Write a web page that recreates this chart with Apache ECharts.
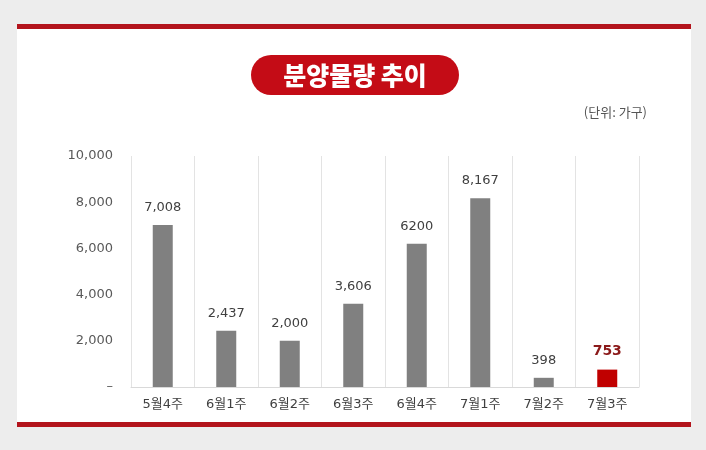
<!DOCTYPE html>
<html>
<head>
<meta charset="utf-8">
<script src="https://cdn.jsdelivr.net/npm/echarts@6/dist/echarts.min.js"></script>
<style>
  html, body { margin: 0; padding: 0; background: #ededed; }
  #main { width: 706px; height: 450px; }
</style>
</head>
<body>
<div id="main"></div>
<script>
var categories = ['5월4주', '6월1주', '6월2주', '6월3주', '6월4주', '7월1주', '7월2주', '7월3주'];
var values = [7008, 2437, 2000, 3606, 6200, 8167, 398, 753];
var valueLabels = ['7,008', '2,437', '2,000', '3,606', '6200', '8,167', '398', '753'];
var yTicks = [0, 2000, 4000, 6000, 8000, 10000];

var font = '"Noto Sans CJK KR", "Noto Sans", sans-serif';
var numFont = '"DejaVu Sans", "Noto Sans CJK KR", sans-serif';
var lastIdx = values.length - 1;

var barData = values.map(function (v, i) {
	if (i === lastIdx) {
		return {
			value: v,
			itemStyle: { color: '#c00000' },
			label: { color: '#8b1a1a', fontWeight: 'bold', fontSize: 14 }
		};
	}
	return v;
});

var myChart = echarts.init(document.getElementById('main'));
myChart.setOption({
	backgroundColor: '#ededed',
	animation: false,
	graphic: [
		// 흰 패널
		{ type: 'rect', shape: { x: 17, y: 24, width: 674, height: 403 }, style: { fill: '#ffffff' }, z: -10 },
		// 위/아래 빨간 선
		{ type: 'rect', shape: { x: 17, y: 24, width: 674, height: 5 }, style: { fill: '#b3141c' } },
		{ type: 'rect', shape: { x: 17, y: 422, width: 674, height: 5 }, style: { fill: '#b3141c' } },
		// 제목 알약
		{ type: 'rect', shape: { x: 251, y: 55, width: 208, height: 40, r: 20 }, style: { fill: '#c40c16' } },
		{
			type: 'text', x: 355, y: 75,
			style: { text: '분양물량 추이', fill: '#ffffff', font: '900 25px ' + font, align: 'center', verticalAlign: 'middle' }
		},
		{
			type: 'text', x: 647, y: 112,
			style: { text: '(단위: 가구)', fill: '#555555', font: '13px ' + font, align: 'right', verticalAlign: 'middle' }
		}
	],
	grid: { left: 131, right: 67, top: 156, bottom: 63 },
	xAxis: {
		type: 'category',
		data: categories,
		axisLine: { lineStyle: { color: '#d9d9d9' } },
		axisTick: { show: false },
		splitLine: { show: true, interval: 0, lineStyle: { color: '#e3e3e3' } },
		axisLabel: { color: '#404040', fontSize: 13, fontFamily: numFont, margin: 11, interval: 0 }
	},
	yAxis: {
		type: 'value',
		min: 0,
		max: 10000,
		interval: 2000,
		axisLine: { show: false },
		axisTick: { show: false },
		splitLine: { show: false },
		axisLabel: {
			color: '#595959', fontSize: 13, fontFamily: numFont, margin: 18,
			formatter: function (v) {
				if (yTicks.indexOf(v) < 0) return '';
				return v === 0 ? '–' : v.toLocaleString('en-US');
			}
		}
	},
	series: [{
		type: 'bar',
		barWidth: 20,
		data: barData,
		itemStyle: { color: '#808080' },
		label: {
			show: true,
			position: 'top',
			distance: 11,
			color: '#404040',
			fontSize: 13,
			fontFamily: numFont,
			formatter: function (p) { return valueLabels[p.dataIndex]; }
		}
	}]
});
</script>
</body>
</html>
